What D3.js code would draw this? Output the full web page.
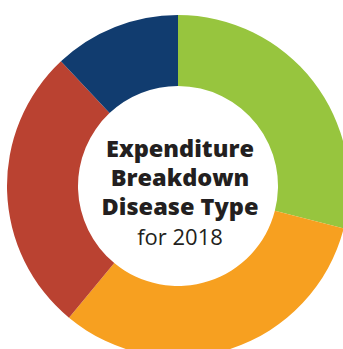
<!DOCTYPE html>
<html>
<head>
<meta charset="utf-8">
<script src="https://cdn.jsdelivr.net/npm/d3@7"></script>
<style>
  html, body { margin: 0; padding: 0; background: #ffffff; }
  svg { display: block; }
</style>
</head>
<body>
<svg id="chart" width="343" height="349"></svg>
<script>
// Share of expenditure per disease type, clockwise from 12 o'clock
const categories = ["Type A", "Type B", "Type C", "Type D"];
const shares = [29, 32, 27, 12];
const colors = ["#97c53e", "#f7a020", "#ba4231", "#113c6f"];

const titleLines = ["Expenditure", "Breakdown", "Disease Type"];
const subtitle = "for 2018";

const width = 343, height = 349;
const cx = 178, cy = 186;
const outerR = 171, innerR = 100;

const svg = d3.select("#chart");
const g = svg.append("g").attr("transform", `translate(${cx},${cy})`);

const data = categories.map((c, i) => ({ category: c, value: shares[i] }));

const color = d3.scaleOrdinal().domain(categories).range(colors);

const pie = d3.pie()
  .value(d => d.value)
  .sort(null);

const arc = d3.arc()
  .innerRadius(innerR)
  .outerRadius(outerR);

g.selectAll("path.slice")
  .data(pie(data))
  .join("path")
  .attr("class", "slice")
  .attr("d", arc)
  .attr("fill", d => color(d.data.category));

// Centre caption
const text = g.append("text")
  .attr("text-anchor", "middle")
  .attr("fill", "#231f20")
  .style("font-family", "'Open Sans', 'Noto Sans', sans-serif");

const textX = 2;
const baselines = [-29.5, -0.5, 29, 59];
titleLines.forEach((line, i) => {
  text.append("tspan")
    .attr("x", textX)
    .attr("y", baselines[i])
    .style("font-size", "23.5px")
    .style("font-weight", 800)
    .text(line);
});
text.append("tspan")
  .attr("x", textX)
  .attr("y", baselines[3])
  .style("font-size", "22px")
  .style("font-weight", 400)
  .text(subtitle);
</script>
</body>
</html>
